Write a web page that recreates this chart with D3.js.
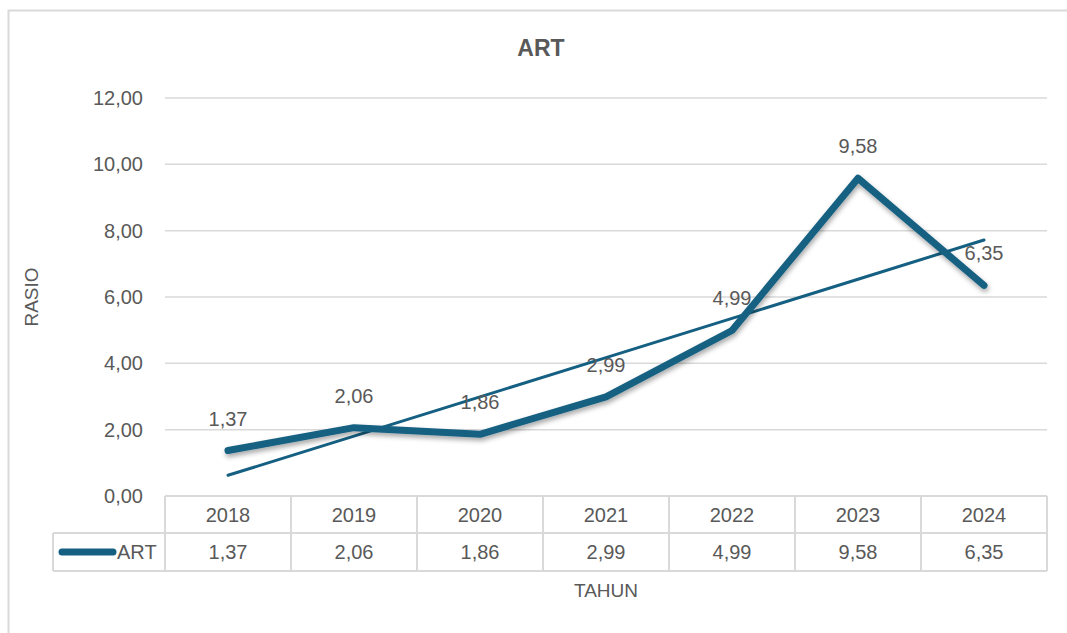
<!DOCTYPE html>
<html>
<head>
<meta charset="utf-8">
<script src="https://cdn.jsdelivr.net/npm/d3@7"></script>
<style>
  body { margin: 0; background: #fff; }
  text { font-family: "Liberation Sans", Arial, sans-serif; fill: #595959; }
</style>
</head>
<body>
<svg id="chart"></svg>
<script>
const years = ["2018", "2019", "2020", "2021", "2022", "2023", "2024"];
const artValues = [1.37, 2.06, 1.86, 2.99, 4.99, 9.58, 6.35];
const yTicks = [0, 2, 4, 6, 8, 10, 12];
const seriesName = "ART";

const w = 1067;
const h = 633;
const margin = { top: 98, right: 20, bottom: 137, left: 165 };
const color = "#156082";
const gridColor = "#d9d9d9";
const fmt = (v) => d3.format(".2f")(v).replace(".", ",");

const svg = d3.select("#chart").attr("width", w).attr("height", h);

// shadow for main line
const defs = svg.append("defs");
const filter = defs.append("filter").attr("id", "shadow")
  .attr("x", "-10%").attr("y", "-10%").attr("width", "120%").attr("height", "130%");
filter.append("feDropShadow").attr("dx", 1).attr("dy", 3).attr("stdDeviation", 2.5)
  .attr("flood-color", "#000").attr("flood-opacity", 0.35);

// outer chart border
svg.append("rect")
  .attr("x", 8.5).attr("y", 10.5)
  .attr("width", w + 10).attr("height", h + 10)
  .attr("fill", "none").attr("stroke", gridColor).attr("stroke-width", 2);

const x0 = margin.left;
const x1 = 1047;
const yScale = d3.scaleLinear().domain([0, 12]).range([496, 98]);
const xScale = d3.scaleBand().domain(years).range([x0, x1]);

// gridlines
svg.append("g").selectAll("line").data(yTicks.slice(1)).enter().append("line")
  .attr("x1", x0).attr("x2", x1)
  .attr("y1", (d) => yScale(d)).attr("y2", (d) => yScale(d))
  .attr("stroke", gridColor).attr("stroke-width", 1.5);

// y axis labels
const yAxis = d3.axisLeft(yScale).tickValues(yTicks).tickFormat(fmt).tickSize(0).tickPadding(22);
const yg = svg.append("g").attr("transform", `translate(${x0},0)`).call(yAxis);
yg.select(".domain").remove();
yg.selectAll("text").style("font-size", "20px").attr("fill", "#595959");

// title
svg.append("text").attr("x", 541).attr("y", 56).attr("text-anchor", "middle")
  .style("font-size", "23px").style("font-weight", "bold").text("ART");

// axis titles
svg.append("text").attr("transform", "translate(38,297) rotate(-90)")
  .attr("text-anchor", "middle").style("font-size", "19px").text("RASIO");
svg.append("text").attr("x", 606).attr("y", 597).attr("text-anchor", "middle")
  .style("font-size", "19px").text("TAHUN");

// trendline (linear least squares on category index)
const n = artValues.length;
const idx = d3.range(1, n + 1);
const mx = d3.mean(idx), my = d3.mean(artValues);
const slope = d3.sum(idx, (d, i) => (d - mx) * (artValues[i] - my)) / d3.sum(idx, (d) => (d - mx) ** 2);
const intercept = my - slope * mx;
const cx = (i) => xScale(years[i]) + xScale.bandwidth() / 2;

svg.append("path")
  .datum(artValues)
  .attr("fill", "none").attr("stroke", color).attr("stroke-width", 3)
  .attr("stroke-linecap", "round")
  .attr("d", d3.line().x((d, i) => cx(i)).y((d, i) => yScale(intercept + slope * (i + 1))));

// main line
svg.append("path")
  .datum(artValues)
  .attr("fill", "none").attr("stroke", color).attr("stroke-width", 7)
  .attr("stroke-linecap", "round").attr("stroke-linejoin", "round")
  .attr("filter", "url(#shadow)")
  .attr("d", d3.line().x((d, i) => cx(i)).y((d) => yScale(d)));

// data labels
svg.append("g").selectAll("text").data(artValues).enter().append("text")
  .attr("x", (d, i) => cx(i)).attr("y", (d) => yScale(d) - 25)
  .attr("text-anchor", "middle").style("font-size", "20px").text(fmt);

// data table
const rowTop = 496, rowMid = 533, rowBot = 571, legendLeft = 53;
const tg = svg.append("g").attr("stroke", gridColor).attr("stroke-width", 2).attr("fill", "none");
tg.append("line").attr("x1", x0).attr("x2", x1).attr("y1", rowTop).attr("y2", rowTop);
tg.append("line").attr("x1", legendLeft).attr("x2", x1).attr("y1", rowMid).attr("y2", rowMid);
tg.append("line").attr("x1", legendLeft).attr("x2", x1).attr("y1", rowBot).attr("y2", rowBot);
tg.append("line").attr("x1", legendLeft).attr("x2", legendLeft).attr("y1", rowMid).attr("y2", rowBot);
tg.selectAll(".v").data(d3.range(n + 1)).enter().append("line")
  .attr("x1", (i) => x0 + i * xScale.bandwidth()).attr("x2", (i) => x0 + i * xScale.bandwidth())
  .attr("y1", rowTop).attr("y2", rowBot);

svg.append("g").selectAll("text").data(years).enter().append("text")
  .attr("x", (d, i) => cx(i)).attr("y", 522).attr("text-anchor", "middle")
  .style("font-size", "20px").text((d) => d);
svg.append("g").selectAll("text").data(artValues).enter().append("text")
  .attr("x", (d, i) => cx(i)).attr("y", 559).attr("text-anchor", "middle")
  .style("font-size", "20px").text(fmt);

// legend key
svg.append("line").attr("x1", 62).attr("x2", 113).attr("y1", 552).attr("y2", 552)
  .attr("stroke", color).attr("stroke-width", 7).attr("stroke-linecap", "round");
svg.append("text").attr("x", 117).attr("y", 559).style("font-size", "20px").text(seriesName);
</script>
</body>
</html>
